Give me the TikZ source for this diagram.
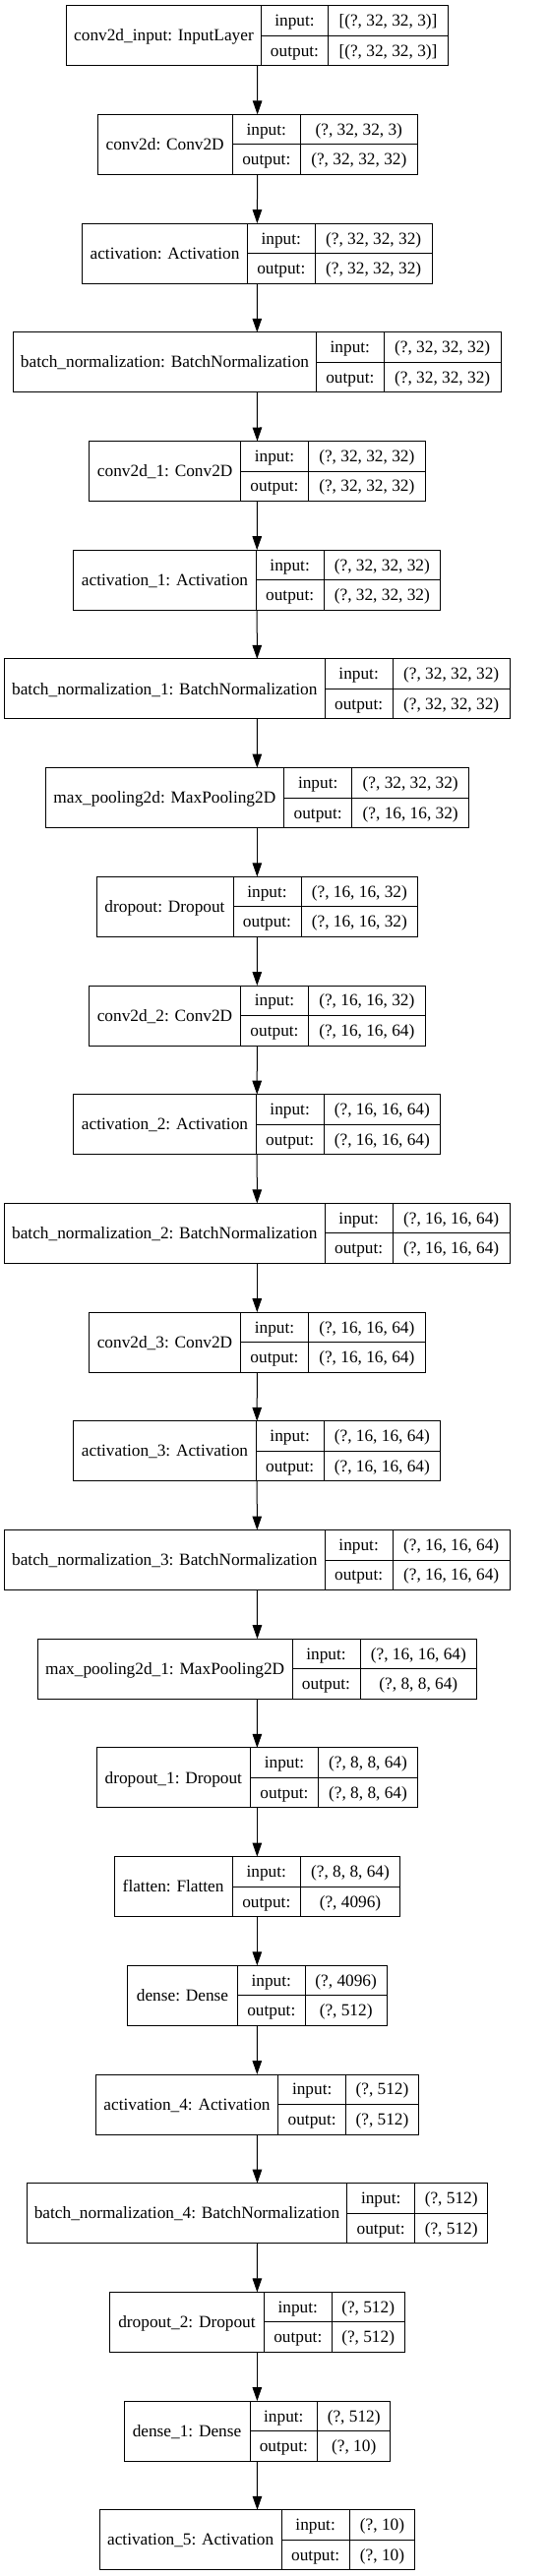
\documentclass[tikz,border=0pt]{standalone}
\usepackage{fontspec}
\setmainfont{Liberation Serif}
\usetikzlibrary{arrows.meta}
\tikzset{
  recbox/.style={draw=black, line width=1pt, inner sep=0pt, outer sep=0pt, minimum height=61pt},
  divline/.style={draw=black, line width=1pt},
  txt/.style={inner sep=0pt, text height=11.3pt, text depth=0pt, font=\fontsize{17.3}{20}\selectfont},
  arr/.style={draw=black, line width=1pt, -{Triangle[length=14pt,width=9.5pt]}}
}
% #1 name, #2 index, #3 L, #4 d1, #5 d2, #6 R, #7 label, #8 input, #9 output
\newcommand\kerasLayer[9]{%
  \pgfmathsetmacro\kt{-5.7-110.7*#2}%
  \pgfmathsetmacro\kb{\kt-61}%
  \pgfmathsetmacro\km{\kt-30.5}%
  \pgfmathsetmacro\kup{\km+15.25}%
  \pgfmathsetmacro\kdn{\km-15.25}%
  \node[recbox, minimum width={(#6-#3)*1pt}] (#1) at ({(#3+#6)/2},\km) {};
  \draw[divline] (#4,\kt) -- (#4,\kb);
  \draw[divline] (#5,\kt) -- (#5,\kb);
  \draw[divline] (#4,\km) -- (#6,\km);
  \node[txt] (#1l) at ({(#3+#4)/2},\km) {#7};
  \node[txt] (#1i) at ({(#4+#5)/2},\kup) {input:};
  \node[txt] (#1o) at ({(#4+#5)/2},\kdn) {output:};
  \node[txt] (#1iv) at ({(#5+#6)/2},\kup) {#8};
  \node[txt] (#1ov) at ({(#5+#6)/2},\kdn) {#9};
}
\begin{document}
\begin{tikzpicture}[x=1pt,y=1pt]
\useasboundingbox (0,0) rectangle (557,-2619);
\fill[white] (0,0) rectangle (557,-2619);
\kerasLayer{n0}{0}{67.7}{265.3}{333.7}{455.3}{conv2d\_input: InputLayer}{[(?, 32, 32, 3)]}{[(?, 32, 32, 3)]}
\kerasLayer{n1}{1}{99}{236.3}{305.3}{424.3}{conv2d: Conv2D}{(?, 32, 32, 3)}{(?, 32, 32, 32)}
\kerasLayer{n2}{2}{83.7}{251.3}{320.3}{439}{activation: Activation}{(?, 32, 32, 32)}{(?, 32, 32, 32)}
\kerasLayer{n3}{3}{13.3}{321.7}{390}{509.3}{batch\_normalization: BatchNormalization}{(?, 32, 32, 32)}{(?, 32, 32, 32)}
\kerasLayer{n4}{4}{90.7}{244.7}{313.3}{432.3}{conv2d\_1: Conv2D}{(?, 32, 32, 32)}{(?, 32, 32, 32)}
\kerasLayer{n5}{5}{74.7}{260.3}{329}{447.7}{activation\_1: Activation}{(?, 32, 32, 32)}{(?, 32, 32, 32)}
\kerasLayer{n6}{6}{4.3}{330.3}{399}{518.3}{batch\_normalization\_1: BatchNormalization}{(?, 32, 32, 32)}{(?, 32, 32, 32)}
\kerasLayer{n7}{7}{46}{288.7}{357.7}{476.7}{max\_pooling2d: MaxPooling2D}{(?, 32, 32, 32)}{(?, 16, 16, 32)}
\kerasLayer{n8}{8}{98}{237}{306}{424.7}{dropout: Dropout}{(?, 16, 16, 32)}{(?, 16, 16, 32)}
\kerasLayer{n9}{9}{90.3}{244.7}{313.3}{432.3}{conv2d\_2: Conv2D}{(?, 16, 16, 32)}{(?, 16, 16, 64)}
\kerasLayer{n10}{10}{74.7}{260.3}{329}{447.7}{activation\_2: Activation}{(?, 16, 16, 64)}{(?, 16, 16, 64)}
\kerasLayer{n11}{11}{4.3}{330.3}{399}{518.3}{batch\_normalization\_2: BatchNormalization}{(?, 16, 16, 64)}{(?, 16, 16, 64)}
\kerasLayer{n12}{12}{90.3}{244.7}{313.3}{432.3}{conv2d\_3: Conv2D}{(?, 16, 16, 64)}{(?, 16, 16, 64)}
\kerasLayer{n13}{13}{74.7}{260.3}{329}{447.7}{activation\_3: Activation}{(?, 16, 16, 64)}{(?, 16, 16, 64)}
\kerasLayer{n14}{14}{4.3}{330.3}{399}{518.3}{batch\_normalization\_3: BatchNormalization}{(?, 16, 16, 64)}{(?, 16, 16, 64)}
\kerasLayer{n15}{15}{38.3}{297}{366}{484.7}{max\_pooling2d\_1: MaxPooling2D}{(?, 16, 16, 64)}{(?, 8, 8, 64)}
\kerasLayer{n16}{16}{98}{254.7}{323.3}{424.7}{dropout\_1: Dropout}{(?, 8, 8, 64)}{(?, 8, 8, 64)}
\kerasLayer{n17}{17}{116}{236.3}{305.3}{406.7}{flatten: Flatten}{(?, 8, 8, 64)}{(?, 4096)}
\kerasLayer{n18}{18}{129.7}{241.3}{310.3}{393}{dense: Dense}{(?, 4096)}{(?, 512)}
\kerasLayer{n19}{19}{97.3}{282.7}{351.7}{425.3}{activation\_4: Activation}{(?, 512)}{(?, 512)}
\kerasLayer{n20}{20}{27.3}{352.7}{421.7}{495.7}{batch\_normalization\_4: BatchNormalization}{(?, 512)}{(?, 512)}
\kerasLayer{n21}{21}{111.7}{268.3}{337.3}{411}{dropout\_2: Dropout}{(?, 512)}{(?, 512)}
\kerasLayer{n22}{22}{126}{254}{322.7}{396.7}{dense\_1: Dense}{(?, 512)}{(?, 10)}
\kerasLayer{n23}{23}{101.3}{286}{355.3}{421.7}{activation\_5: Activation}{(?, 10)}{(?, 10)}
\foreach \a [evaluate=\a as \b using int(\a+1)] in {0,...,22} {
  \draw[arr] (n\a.south) -- (n\b.north);
}
\end{tikzpicture}
\end{document}
